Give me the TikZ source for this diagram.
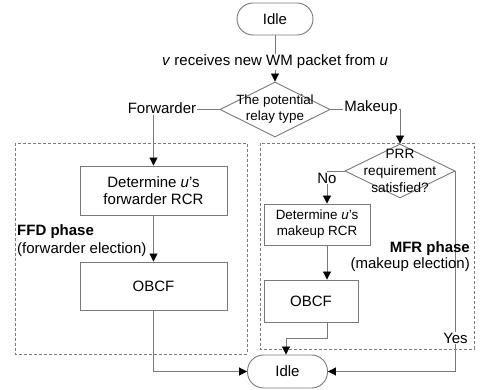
\documentclass[tikz,border=0pt]{standalone}
\usepackage{fontspec}
\setmainfont{Liberation Sans}
\usetikzlibrary{arrows.meta,shapes.geometric}
\definecolor{lncol}{HTML}{7A7A7A}
\tikzset{
  ln/.style={draw=lncol, line width=0.9pt},
  arr/.style={ln, -{Triangle[length=8pt,width=8pt,color=black]}},
  fbig/.style={font=\fontsize{15}{17}\selectfont},
  fsmall/.style={font=\fontsize{13.4}{16}\selectfont},
  term/.style={ln, rectangle, rounded corners=16pt, fill=white, fbig, inner sep=0pt},
  box/.style={ln, rectangle, fill=white, align=center, inner sep=0pt},
  diam/.style={ln, diamond, inner sep=0pt},
  lbl/.style={fill=white, inner sep=1pt, fbig},
  phase/.style={draw=lncol, line width=0.8pt, dash pattern=on 3pt off 2pt},
}
\begin{document}
\begin{tikzpicture}[x=1pt,y=-1pt]
\useasboundingbox (0,0) rectangle (480,390);
% phase frames
\draw[phase] (15,143) rectangle (247,354);
\draw[phase] (260,143) rectangle (474,349);
% nodes
\node[term, minimum width=76pt, minimum height=32pt] (idle1) at (275,19) {Idle};
\node[diam, minimum width=110pt, minimum height=55pt] (dia) at (275,109.5) {};
\node[box, fbig, minimum width=147pt, minimum height=49pt] (fdet) at (153.5,190.5) {Determine \textit{u}'s\\forwarder RCR};
\node[box, fbig, minimum width=147pt, minimum height=48pt] (fobcf) at (153.5,286) {OBCF};
\node[diam, minimum width=110pt, minimum height=54pt] (prr) at (400,171) {};
\node[box, fsmall, minimum width=106pt, minimum height=41pt] (mdet) at (317,224.5) {Determine \textit{u}'s\\makeup RCR};
\node[box, fbig, minimum width=94pt, minimum height=42pt] (mobcf) at (311,301) {OBCF};
\node[term, minimum width=80pt, minimum height=33pt] (idle2) at (287.5,371.5) {Idle};
\coordinate (nx) at (327,178);
\coordinate (j1) at (286,338);
% connectors
\draw[arr] (idle1.south) -- (dia.north);
\draw[arr] (dia.west) -| (fdet.north);
\draw[arr] (dia.east) -| (prr.north);
\draw[arr] (fdet.south) -- (fobcf.north);
\draw[arr] (fobcf.south) |- (idle2.west);
\draw[arr] (prr.west) -| (mdet.north -| nx);
\draw[arr] (mdet.south -| nx) -- (mobcf.north -| nx);
\draw[arr] (mobcf.south -| nx) |- (j1) -- (idle2.north -| j1);
\draw[arr] (prr.east) |- (idle2.east);
% texts
\node[lbl] (recv) at (275,62) {\textit{v} receives new WM packet from \textit{u}};
\node[lbl] (fw) at (162,108) {Forwarder};
\node[lbl] (mk) at (371,108) {Makeup};
\node[lbl] (no) at (nx) {No};
\node[lbl] (yes) at (455.5,338) {Yes};
\node[fsmall, align=center, inner sep=0pt] (diat) at (dia) {The potential\\relay type};
\node[fsmall, align=center, inner sep=0pt, font=\fontsize{13.6}{17}\selectfont] (prrt) at (prr) {PRR\\requirement\\satisfied?};
\node[fbig, align=left, anchor=north west, inner sep=0pt, font=\fontsize{15}{18}\selectfont] (ffd) at (17,224) {\textbf{FFD phase}\\(forwarder election)};
\node[fbig, align=right, anchor=north east, inner sep=0pt, font=\fontsize{15}{16}\selectfont] (mfr) at (470,241) {\textbf{MFR phase}\\(makeup election)};
\end{tikzpicture}
\end{document}
